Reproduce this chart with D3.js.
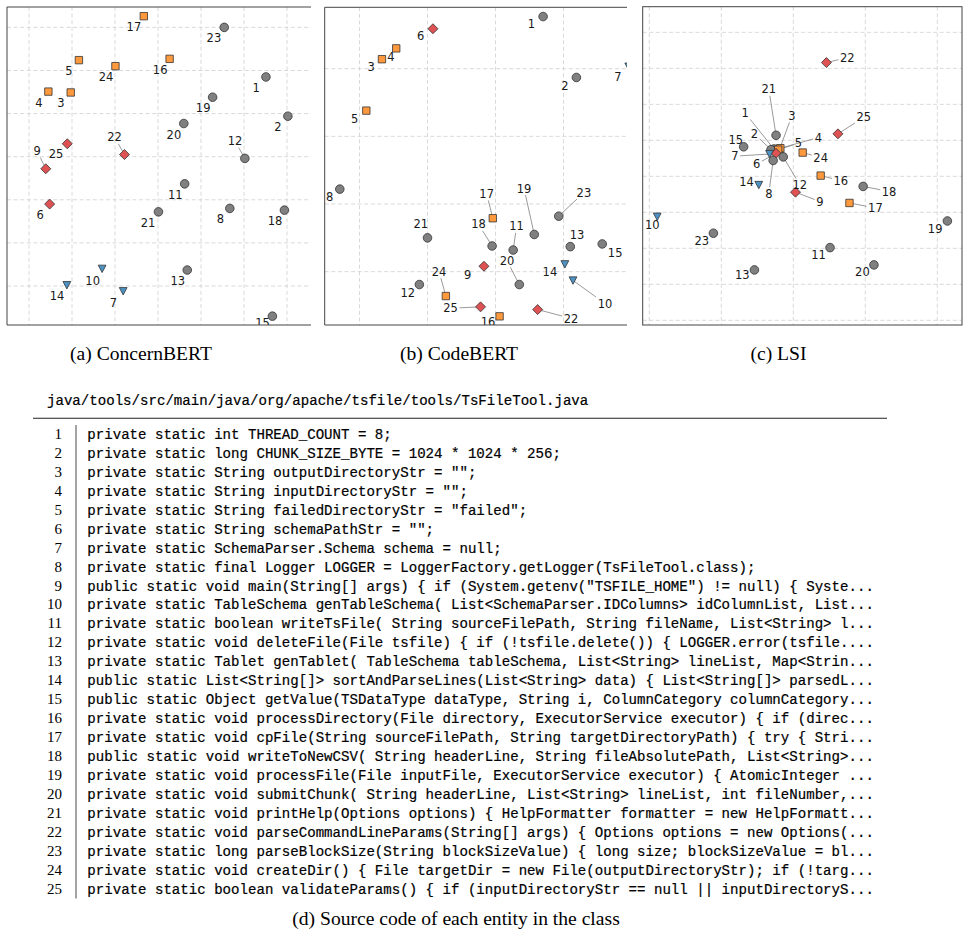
<!DOCTYPE html>
<html>
<head>
<meta charset="utf-8">
<title>Entity embeddings of TsFileTool</title>
<script src="https://d3js.org/d3.v7.min.js"></script>
<style>
  body { margin: 0; background: #fff; }
  svg { display: block; }
  .pt-label { font-family: "DejaVu Sans", sans-serif; font-size: 11.5px; fill: #1a1a1a; }
  .caption { font-family: "Liberation Serif", serif; font-size: 19.6px; fill: #000; }
  .mono { font-family: "Liberation Mono", monospace; font-size: 14.1px; fill: #000; stroke: #000; stroke-width: 0.2; white-space: pre; }
  .lineno { font-family: "Liberation Serif", serif; font-size: 15px; fill: #000; }
</style>
</head>
<body>
<div id="fig"></div>
<script>
// entities 1..25 and the cluster each one falls in (0 grey, 1 orange, 2 red, 3 blue)
var ids   = [1,2,3,4,5,6,7,8,9,10,11,12,13,14,15,16,17,18,19,20,21,22,23,24,25];
var group = [0,0,1,1,1,2,3,0,2,3,0,0,0,3,0,1,1,0,0,0,0,2,0,1,2];

// (a) ConcernBERT - point coords and label coords
var aX  = [5.51,6.02,0.97,0.45,1.16,0.48,2.19,4.67,0.39,1.70,3.62,5.02,3.68,0.88,5.66,3.27,2.67,5.94,4.27,3.60,3.01,2.22,4.54,2.01,0.89];
var aY  = [4.85,3.94,4.49,4.51,5.24,1.90,-0.12,1.80,2.72,0.40,2.37,2.96,0.37,0.02,-0.70,5.27,6.26,1.76,4.38,3.77,1.72,3.05,6.00,5.10,3.30];
var aLX = [5.28,5.79,0.74,0.23,0.93,0.26,1.96,4.45,0.19,1.48,3.40,4.79,3.46,0.65,5.43,3.05,2.44,5.72,4.05,3.37,2.77,1.99,4.30,1.79,0.63];
var aLY = [4.59,3.69,4.25,4.25,4.99,1.64,-0.38,1.55,3.13,0.12,2.12,3.36,0.12,-0.24,-0.86,5.01,6.01,1.50,4.13,3.50,1.47,3.45,5.75,4.85,3.07];
var aLead = [9,12,22];

// (b) CodeBERT
var bX  = [2.70,3.19,0.33,0.54,0.10,1.08,3.96,-0.29,1.83,3.14,2.26,0.88,3.10,3.02,3.57,2.06,1.96,1.95,2.57,2.35,1.00,2.62,2.93,1.27,1.78];
var bY  = [3.77,2.87,3.14,3.30,2.38,3.59,3.03,1.22,0.08,-0.13,0.32,-0.19,0.37,0.11,0.41,-0.66,0.79,0.38,0.55,-0.19,0.50,-0.56,0.82,-0.36,-0.52];
var bLX = [2.53,3.02,0.17,0.46,-0.07,0.90,3.80,-0.44,1.59,3.61,2.31,0.71,3.20,2.80,3.76,1.89,1.87,1.75,2.42,2.17,0.90,3.11,3.30,1.17,1.34];
var bLY = [3.66,2.75,3.03,3.17,2.26,3.48,2.88,1.11,-0.04,-0.47,0.67,-0.31,0.55,0.00,0.28,-0.74,1.15,0.70,1.23,0.16,0.70,-0.69,1.17,0.00,-0.54];
var bLead = [10,11,17,18,19,20,22,23,24,25];

// (c) LSI
var cX  = [1.73,1.69,1.81,1.82,1.79,1.76,1.67,1.72,2.03,0.11,2.51,1.86,1.46,1.52,1.31,2.38,2.78,2.97,4.14,3.12,1.76,2.46,0.89,2.13,2.62];
var cY  = [2.38,2.37,2.38,2.39,2.37,2.32,2.31,2.22,1.78,1.44,1.01,2.27,0.70,1.88,2.41,2.01,1.63,1.86,1.38,0.77,2.57,3.58,1.21,2.33,2.59];
var cLX = [1.33,1.46,1.98,2.35,2.07,1.49,1.19,1.66,2.37,0.04,2.35,2.09,1.29,1.35,1.20,2.66,3.14,3.33,3.97,2.96,1.66,2.75,0.73,2.38,2.98];
var cLY = [2.88,2.59,2.84,2.54,2.46,2.17,2.28,1.76,1.65,1.32,0.91,1.88,0.63,1.92,2.50,1.94,1.56,1.79,1.27,0.68,3.21,3.65,1.11,2.26,2.82];
var cLead = [1,2,3,4,5,6,7,8,9,12,16,17,18,21,22,24,25];

// grid positions
var ticksA = [0,1,2,3,4,5,6];
var ticksB = [0,1,2,3];
var ticksCx = [0,1,2,3,4];
var ticksCy = [0,0.5,1,1.5,2,2.5,3,3.5,4];

var captions = ["(a) ConcernBERT", "(b) CodeBERT", "(c) LSI"];
var filePath = "java/tools/src/main/java/org/apache/tsfile/tools/TsFileTool.java";
var codeLines = [
  'private static int THREAD_COUNT = 8;',
  'private static long CHUNK_SIZE_BYTE = 1024 * 1024 * 256;',
  'private static String outputDirectoryStr = "";',
  'private static String inputDirectoryStr = "";',
  'private static String failedDirectoryStr = "failed";',
  'private static String schemaPathStr = "";',
  'private static SchemaParser.Schema schema = null;',
  'private static final Logger LOGGER = LoggerFactory.getLogger(TsFileTool.class);',
  'public static void main(String[] args) { if (System.getenv("TSFILE_HOME") != null) { Syste...',
  'private static TableSchema genTableSchema( List<SchemaParser.IDColumns> idColumnList, List...',
  'private static boolean writeTsFile( String sourceFilePath, String fileName, List<String> l...',
  'private static void deleteFile(File tsfile) { if (!tsfile.delete()) { LOGGER.error(tsfile....',
  'private static Tablet genTablet( TableSchema tableSchema, List<String> lineList, Map<Strin...',
  'public static List<String[]> sortAndParseLines(List<String> data) { List<String[]> parsedL...',
  'public static Object getValue(TSDataType dataType, String i, ColumnCategory columnCategory...',
  'private static void processDirectory(File directory, ExecutorService executor) { if (direc...',
  'private static void cpFile(String sourceFilePath, String targetDirectoryPath) { try { Stri...',
  'public static void writeToNewCSV( String headerLine, String fileAbsolutePath, List<String>...',
  'private static void processFile(File inputFile, ExecutorService executor) { AtomicInteger ...',
  'private static void submitChunk( String headerLine, List<String> lineList, int fileNumber,...',
  'private static void printHelp(Options options) { HelpFormatter formatter = new HelpFormatt...',
  'private static void parseCommandLineParams(String[] args) { Options options = new Options(...',
  'private static long parseBlockSize(String blockSizeValue) { long size; blockSizeValue = bl...',
  'private static void createDir() { File targetDir = new File(outputDirectoryStr); if (!targ...',
  'private static boolean validateParams() { if (inputDirectoryStr == null || inputDirectoryS...'
];

var width = 969, height = 937;
var fills = ["#808080", "#ff993e", "#de5253", "#4c92c3"];

var svg = d3.select("#fig").append("svg")
    .attr("width", width)
    .attr("height", height);
svg.append("rect").attr("width", width).attr("height", height).attr("fill", "#fff");

var defs = svg.append("defs");

function markerPath(k) {
  if (k == 0) return d3.symbol().type(d3.symbolCircle).size(Math.PI * 4.3 * 4.3)();
  if (k == 1) return "M-3.7,-3.7H3.7V3.7H-3.7Z";
  if (k == 2) return "M0,-5L5,0L0,5L-5,0Z";
  return "M-3.9,-3.6L3.9,-3.6L0,3.8Z";
}

function drawPanel(id, box, xd, yd, xs, ys, lx, ly, lead, xticks, yticks, fullFrame) {
  var x = d3.scaleLinear().domain(xd).range([box.l, box.r]);
  var y = d3.scaleLinear().domain(yd).range([box.b, box.t]);

  defs.append("clipPath").attr("id", "clip-" + id)
    .append("rect")
      .attr("x", box.l).attr("y", box.t)
      .attr("width", box.r - box.l).attr("height", box.b - box.t);

  var g = svg.append("g").attr("clip-path", "url(#clip-" + id + ")");

  // dashed grid
  g.selectAll("line.vg").data(xticks).enter().append("line")
      .attr("class", "vg")
      .attr("x1", function(d) { return x(d); }).attr("x2", function(d) { return x(d); })
      .attr("y1", box.t).attr("y2", box.b);
  g.selectAll("line.hg").data(yticks).enter().append("line")
      .attr("class", "hg")
      .attr("y1", function(d) { return y(d); }).attr("y2", function(d) { return y(d); })
      .attr("x1", box.l).attr("x2", box.r);
  g.selectAll("line.vg, line.hg")
      .attr("stroke", "#cfcfcf")
      .attr("stroke-width", 0.8)
      .attr("stroke-dasharray", "4,2.6");

  var leadG = g.append("g");
  var markG = g.append("g");
  var labG = g.append("g");

  var pts = ids.map(function(n, i) {
    return { id: n, k: group[i], x: xs[i], y: ys[i], lx: lx[i], ly: ly[i] };
  });

  markG.selectAll("path").data(pts).enter().append("path")
      .attr("d", function(d) { return markerPath(d.k); })
      .attr("transform", function(d) { return "translate(" + x(d.x) + "," + y(d.y) + ")"; })
      .attr("fill", function(d) { return fills[d.k]; })
      .attr("stroke", "#333")
      .attr("stroke-width", 0.8);

  labG.selectAll("text").data(pts).enter().append("text")
      .attr("class", "pt-label")
      .attr("x", function(d) { return x(d.lx); })
      .attr("y", function(d) { return y(d.ly); })
      .attr("text-anchor", "middle")
      .attr("dy", "0.36em")
      .text(function(d) { return d.id; })
      .each(function(d) { d.bb = this.getBBox(); });

  // leader lines from text box edge to the point
  pts.filter(function(d) { return lead.indexOf(d.id) >= 0; }).forEach(function(d) {
    var cx = x(d.lx), cy = y(d.ly), mx = x(d.x), my = y(d.y);
    var dx = mx - cx, dy = my - cy;
    var hw = d.bb.width / 2 + 1.5, hh = d.bb.height / 2 - 0.5;
    var t = Math.min(dx ? hw / Math.abs(dx) : 9, dy ? hh / Math.abs(dy) : 9);
    if (t >= 1) return;
    leadG.append("line")
        .attr("x1", cx + t * dx).attr("y1", cy + t * dy)
        .attr("x2", mx).attr("y2", my)
        .attr("stroke", "#808080")
        .attr("stroke-width", 0.8);
  });

  // frame
  var f = svg.append("g").attr("fill", "none").attr("stroke", "#444").attr("stroke-width", 1);
  if (fullFrame) {
    f.append("rect").attr("x", box.l).attr("y", box.t)
        .attr("width", box.r - box.l).attr("height", box.b - box.t);
  } else {
    f.append("path").attr("d", "M" + box.r + "," + box.t + "H" + box.l + "V" + box.b + "H" + box.r);
  }
}

drawPanel("a", {l: 7, r: 311, t: 7, b: 325}, [-0.512, 6.558], [-0.905, 6.473],
  aX, aY, aLX, aLY, aLead, ticksA, ticksA, false);
drawPanel("b", {l: 324.7, r: 627, t: 7.3, b: 325}, [-0.512, 3.934], [-0.788, 3.907],
  bX, bY, bLX, bLY, bLead, ticksB, ticksB, false);
drawPanel("c", {l: 642.7, r: 962, t: 6.7, b: 325}, [-0.092, 4.343], [-0.065, 4.356],
  cX, cY, cLX, cLY, cLead, ticksCx, ticksCy, true);

// sub captions
var capX = [141, 459, 778.5];
svg.selectAll("text.caption").data(captions).enter().append("text")
    .attr("class", "caption")
    .attr("x", function(d, i) { return capX[i]; })
    .attr("y", 360)
    .attr("text-anchor", "middle")
    .text(function(d) { return d; });

// code listing
svg.append("text").attr("class", "mono")
    .attr("x", 47).attr("y", 405)
    .style("font-size", "14.1px")
    .text(filePath);

svg.append("line")
    .attr("x1", 33).attr("x2", 887).attr("y1", 418.3).attr("y2", 418.3)
    .attr("stroke", "#222").attr("stroke-width", 1.1);

var rowY = d3.scaleLinear().domain([1, 25]).range([434.3, 888.9]);

svg.append("line")
    .attr("x1", 76).attr("x2", 76).attr("y1", 425).attr("y2", 898.5)
    .attr("stroke", "#333").attr("stroke-width", 0.9);

var rows = svg.append("g").selectAll("g").data(codeLines).enter().append("g")
    .attr("transform", function(d, i) { return "translate(0," + (rowY(i + 1) + 4.7) + ")"; });

rows.append("text").attr("class", "lineno")
    .attr("x", 62).attr("text-anchor", "end")
    .text(function(d, i) { return i + 1; });

rows.append("text").attr("class", "mono")
    .attr("x", 87.3)
    .text(function(d) { return d; });

svg.append("text").attr("class", "caption")
    .attr("x", 456).attr("y", 925)
    .attr("text-anchor", "middle")
    .text("(d) Source code of each entity in the class");
</script>
</body>
</html>
